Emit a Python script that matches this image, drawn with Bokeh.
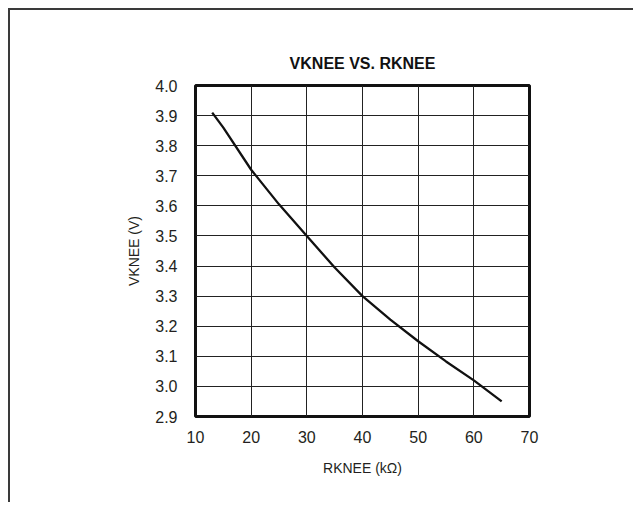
from bokeh.plotting import figure
from bokeh.models import Range1d, FixedTicker, PrintfTickFormatter
from bokeh.embed import file_html
from bokeh.resources import INLINE

# ---- data ----
r_knee = [13, 15, 20, 25, 30, 35, 40, 45, 50, 55, 60, 65]
v_knee = [3.91, 3.86, 3.72, 3.605, 3.50, 3.395, 3.30, 3.222, 3.15, 3.083, 3.02, 2.95]
x_ticks = [10, 20, 30, 40, 50, 60, 70]
y_ticks = [2.9, 3.0, 3.1, 3.2, 3.3, 3.4, 3.5, 3.6, 3.7, 3.8, 3.9, 4.0]

title_text = "VKNEE VS. RKNEE"
x_title = "RKNEE (kΩ)"
y_title = "VKNEE (V)"

FONT = "Liberation Sans"
TXT = "#231f20"

W, H = 625, 494
p = figure(width=W, height=H, output_backend="svg", toolbar_location=None,
           x_range=Range1d(10, 70), y_range=Range1d(2.9, 4.0),
           min_border_left=185, min_border_right=106,
           min_border_top=75, min_border_bottom=88)
p.styles = {"border-top": "2px solid #3a3a3a", "border-left": "2px solid #3a3a3a",
            "margin-left": "8px", "margin-top": "8px"}

p.title.text = title_text
p.title.align = "center"
p.title.text_font = FONT
p.title.text_font_size = "16px"
p.title.text_font_style = "bold"
p.title.text_color = "#111111"
p.title.standoff = 27

p.outline_line_color = "#111111"
p.outline_line_width = 3
p.background_fill_color = "white"
p.border_fill_color = "white"

for ax in (p.xaxis[0], p.yaxis[0]):
    ax.axis_line_color = None
    ax.major_tick_line_color = None
    ax.minor_tick_line_color = None
    ax.major_label_text_font = FONT
    ax.major_label_text_font_size = "16px"
    ax.major_label_text_color = TXT
    ax.axis_label_text_font = FONT
    ax.axis_label_text_font_size = "14px"
    ax.axis_label_text_font_style = "normal"
    ax.axis_label_text_color = TXT

p.xaxis.ticker = FixedTicker(ticks=x_ticks)
p.yaxis.ticker = FixedTicker(ticks=y_ticks)
p.xaxis.formatter = PrintfTickFormatter(format="%d")
p.yaxis.formatter = PrintfTickFormatter(format="%.1f")
p.xaxis.major_label_standoff = 8
p.yaxis.major_label_standoff = 12
p.xaxis.axis_label = x_title
p.yaxis.axis_label = y_title
p.xaxis.axis_label_standoff = 14
p.yaxis.axis_label_standoff = 10

p.grid.grid_line_color = "#222222"
p.grid.grid_line_width = 1
p.grid.grid_line_alpha = 1.0

p.line(r_knee, v_knee, line_color="#111111", line_width=2.3)

open("out.html", "w").write(file_html(p, INLINE))
